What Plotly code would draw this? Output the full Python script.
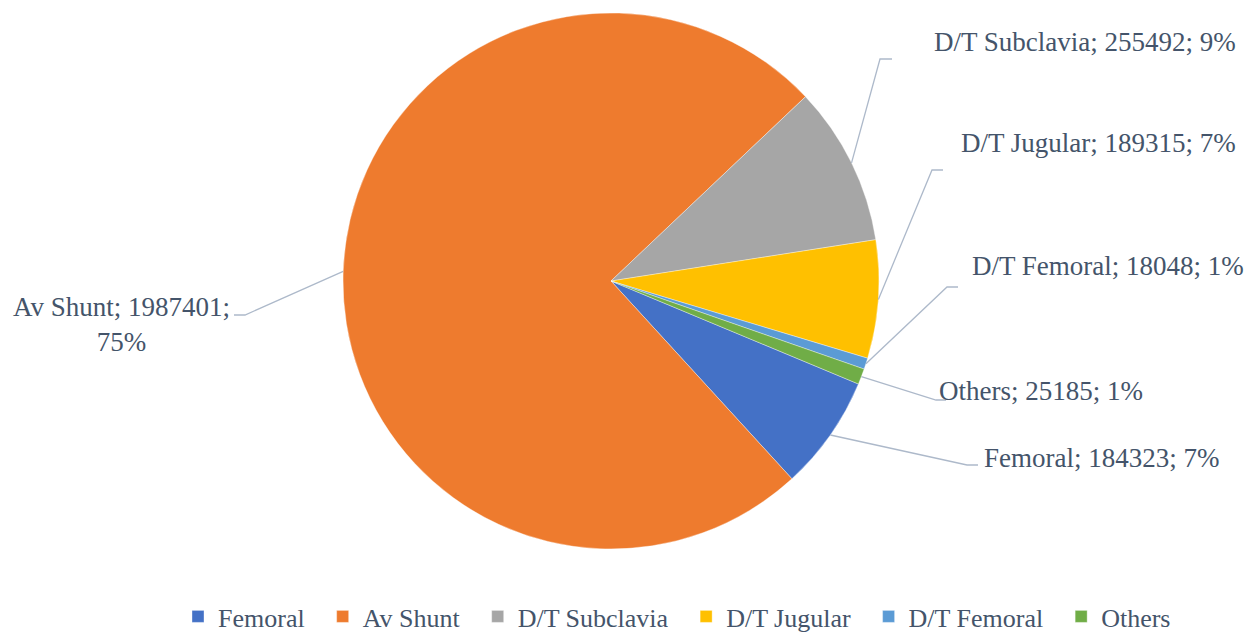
import math
import plotly.graph_objects as go

# ---- data ----
categories = ["Femoral", "Av Shunt", "D/T Subclavia", "D/T Jugular", "D/T Femoral", "Others"]
values = [184323, 1987401, 255492, 189315, 18048, 25185]
percent_labels = ["7%", "75%", "9%", "7%", "1%", "1%"]

# ---- style ----
colors = ["#4471C6", "#EE7B2E", "#A6A6A6", "#FFC000", "#5B9BD5", "#70AD47"]
text_color = "#44546A"
line_color = "#ADB9CA"
W, H = 1244, 635
cx, cy, R = 611, 281, 268
rotation = 112.6
font_family = "Liberation Serif, Times New Roman, serif"
font_size = 27
legend_font_size = 26
legend_pad = "\u00a0\u00a0"

# label layout (pixel positions): elbow point and text anchor per category
label_layout = {
    "Femoral":       dict(elbow=(967, 465), end=(978, 465), text=(982, 458), anchor="left"),
    "Av Shunt":      dict(elbow=(245, 315), end=(234, 315), text=(232, 324), anchor="right"),
    "D/T Subclavia": dict(elbow=(880, 59),  end=(892, 59),  text=(932, 42),  anchor="left"),
    "D/T Jugular":   dict(elbow=(932, 170), end=(943, 170), text=(959, 143), anchor="left"),
    "D/T Femoral":   dict(elbow=(947, 287), end=(958, 287), text=(970, 266), anchor="left"),
    "Others":        dict(elbow=(936, 400), end=(946, 400), text=(937, 391), anchor="left"),
}

def px(x):
    return x / W

def py(y):
    return 1 - y / H

fig = go.Figure(go.Pie(
    labels=[c + legend_pad for c in categories],
    values=values,
    customdata=categories,
    sort=False,
    direction="clockwise",
    rotation=rotation,
    marker=dict(colors=colors, line=dict(color="rgba(255,255,255,0.6)", width=0.6)),
    textinfo="none",
    hovertemplate="%{customdata}: %{value} (%{percent})<extra></extra>",
    domain=dict(x=[px(cx - R), px(cx + R)], y=[py(cy + R), py(cy - R)]),
))

# leader lines + labels computed from slice mid-angles
total = sum(values)
start = rotation
shapes = []
annotations = []
for cat, val, pct in zip(categories, values, percent_labels):
    span = 360 * val / total
    mid = math.radians(start + span / 2)
    start += span
    ex = cx + R * math.sin(mid)
    ey = cy - R * math.cos(mid)
    lay = label_layout[cat]
    path = "M {} {} L {} {} L {} {}".format(
        px(ex), py(ey), px(lay["elbow"][0]), py(lay["elbow"][1]),
        px(lay["end"][0]), py(lay["end"][1]))
    shapes.append(dict(type="path", path=path, xref="paper", yref="paper",
                       line=dict(color=line_color, width=1.3)))
    if cat == "Av Shunt":
        txt = "{}; {};<br>{}".format(cat, val, pct)
    else:
        txt = "{}; {}; {}".format(cat, val, pct)
    annotations.append(dict(
        x=px(lay["text"][0]), y=py(lay["text"][1]), xref="paper", yref="paper",
        text=txt, showarrow=False, xanchor=lay["anchor"], yanchor="middle",
        align="center", font=dict(family=font_family, size=font_size, color=text_color),
    ))

fig.update_layout(
    width=W, height=H,
    margin=dict(l=0, r=0, t=0, b=0, autoexpand=False),
    paper_bgcolor="white",
    plot_bgcolor="white",
    shapes=shapes,
    annotations=annotations,
    showlegend=True,
    legend=dict(
        orientation="h",
        x=px(178), y=py(593), xanchor="left", yanchor="top",
        font=dict(family=font_family, size=legend_font_size, color=text_color),
        itemwidth=30,
        traceorder="normal",
    ),
)

fig.write_html("out.html", config={"displayModeBar": False},
               post_script="document.body.style.margin='0';")
